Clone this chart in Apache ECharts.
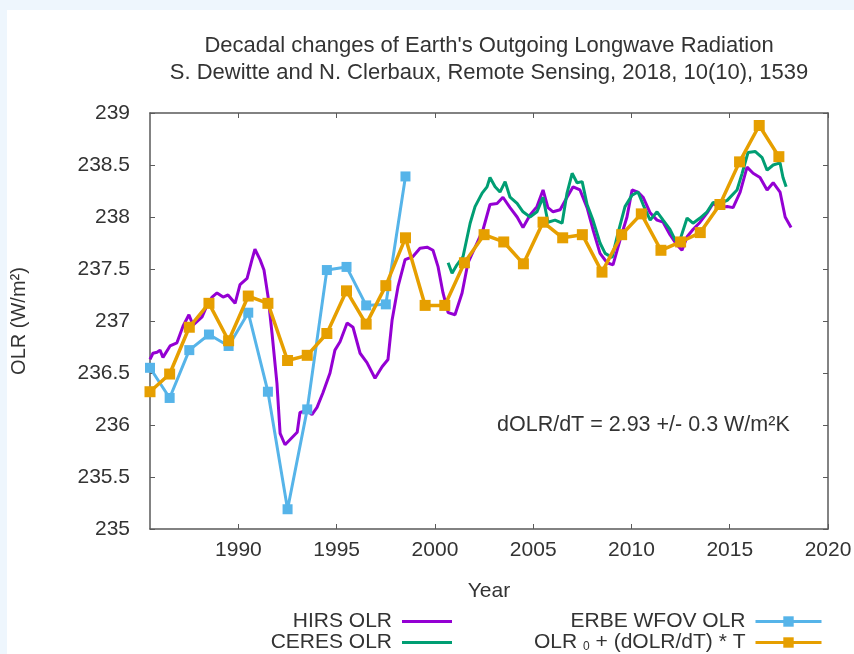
<!DOCTYPE html>
<html>
<head>
<meta charset="utf-8">
<script src="https://cdn.jsdelivr.net/npm/echarts@6/dist/echarts.min.js"></script>
<style>
  html, body { margin: 0; padding: 0; background: #eef6fd; }
  #chart { position: absolute; left: 7px; top: 10px; width: 847px; height: 644px; background: #ffffff; }
</style>
</head>
<body>
<div id="chart"></div>
<script>
// HIRS OLR, monthly smoothed series
const hirsYears = [1985.50,1985.65,1985.86,1986.01,1986.16,1986.52,1986.87,1987.18,1987.48,1987.69,1988.15,1988.40,1988.66,1988.91,1989.22,1989.47,1989.83,1990.08,1990.44,1990.69,1990.84,1991.10,1991.30,1991.51,1991.71,1991.96,1992.12,1992.37,1992.73,1992.99,1993.13,1993.49,1993.74,1994.00,1994.30,1994.66,1994.91,1995.17,1995.53,1995.83,1996.19,1996.54,1996.95,1997.31,1997.61,1997.82,1998.12,1998.48,1998.88,1999.24,1999.60,1999.90,2000.16,2000.41,2000.67,2001.02,2001.38,2001.68,2002.14,2002.45,2002.80,2003.16,2003.46,2003.82,2004.18,2004.48,2004.84,2005.19,2005.50,2005.75,2006.01,2006.37,2006.72,2007.03,2007.38,2007.74,2008.04,2008.40,2008.76,2009.06,2009.42,2009.77,2010.03,2010.33,2010.59,2010.95,2011.30,2011.61,2011.96,2012.32,2012.57,2012.83,2013.13,2013.49,2013.85,2014.15,2014.51,2014.87,2015.17,2015.53,2015.88,2016.19,2016.54,2016.90,2017.21,2017.56,2017.82,2018.12];
const hirsValues = [236.63,236.69,236.70,236.72,236.65,236.76,236.79,236.95,237.06,236.96,237.04,237.15,237.23,237.27,237.23,237.25,237.17,237.35,237.41,237.59,237.69,237.59,237.49,237.23,236.88,236.40,235.92,235.81,235.88,235.93,236.12,236.14,236.10,236.17,236.31,236.50,236.72,236.80,236.98,236.94,236.69,236.60,236.45,236.56,236.63,237.01,237.33,237.59,237.62,237.70,237.71,237.68,237.52,237.27,237.08,237.06,237.27,237.56,237.75,237.88,238.12,238.13,238.19,238.09,238.00,237.90,238.02,238.10,238.26,238.09,238.05,238.07,238.19,238.29,238.26,238.09,237.88,237.65,237.56,237.54,237.78,238.00,238.26,238.24,238.19,238.04,237.97,237.95,237.83,237.73,237.68,237.81,237.88,237.95,238.04,238.13,238.09,238.10,238.09,238.24,238.48,238.42,238.38,238.26,238.33,238.24,238.00,237.90];

// CERES OLR
const ceresYears = [2000.67,2000.87,2001.12,2001.43,2001.79,2002.04,2002.40,2002.65,2002.80,2003.06,2003.31,2003.57,2003.82,2004.18,2004.48,2004.84,2005.19,2005.50,2005.75,2006.11,2006.47,2006.72,2006.98,2007.23,2007.49,2007.74,2008.04,2008.40,2008.66,2009.01,2009.32,2009.67,2010.03,2010.33,2010.59,2010.95,2011.30,2011.61,2011.96,2012.22,2012.47,2012.83,2013.13,2013.49,2013.85,2014.15,2014.51,2014.87,2015.37,2015.63,2015.93,2016.29,2016.65,2016.90,2017.21,2017.56,2017.71,2017.87];
const ceresValues = [237.56,237.46,237.54,237.62,237.94,238.10,238.23,238.29,238.38,238.29,238.24,238.34,238.19,238.13,238.05,238.00,238.05,238.19,237.95,237.97,237.94,238.23,238.42,238.33,238.34,238.12,237.97,237.75,237.65,237.61,237.85,238.10,238.21,238.24,238.12,237.97,238.05,237.97,237.88,237.78,237.78,237.99,237.94,237.99,238.05,238.14,238.13,238.16,238.26,238.42,238.62,238.63,238.57,238.45,238.50,238.52,238.38,238.29];

// ERBE WFOV OLR, annual means
const erbeYears = [1985.5,1986.5,1987.5,1988.5,1989.5,1990.5,1991.5,1992.5,1993.5,1994.5,1995.5,1996.5,1997.5,1998.5];
const erbeValues = [236.55,236.26,236.72,236.87,236.76,237.08,236.32,235.19,236.15,237.49,237.52,237.15,237.16,238.39];

// OLR_0 + (dOLR/dT) * T, annual
const fitYears = [1985.5,1986.5,1987.5,1988.5,1989.5,1990.5,1991.5,1992.5,1993.5,1994.5,1995.5,1996.5,1997.5,1998.5,1999.5,2000.5,2001.5,2002.5,2003.5,2004.5,2005.5,2006.5,2007.5,2008.5,2009.5,2010.5,2011.5,2012.5,2013.5,2014.5,2015.5,2016.5,2017.5];
const fitValues = [236.32,236.49,236.94,237.17,236.81,237.24,237.17,236.62,236.67,236.88,237.29,236.97,237.34,237.80,237.15,237.15,237.56,237.83,237.76,237.55,237.95,237.80,237.83,237.47,237.83,238.03,237.68,237.76,237.85,238.12,238.53,238.88,238.58];

const yearTicks = [1990, 1995, 2000, 2005, 2010, 2015, 2020];

const titleLines = ["Decadal changes of Earth's Outgoing Longwave Radiation",
                    "S. Dewitte and N. Clerbaux, Remote Sensing, 2018, 10(10), 1539"];
const slopeText = 'dOLR/dT = 2.93 +/- 0.3 W/m\u00b2K';
const names = ['HIRS OLR', 'CERES OLR', 'ERBE WFOV OLR', 'OLR0 + (dOLR/dT) * T'];

const pairs = (xs, ys) => xs.map((x, i) => [x, ys[i]]);

const FONT = '"Liberation Sans", Arial, sans-serif';
const TXT = '#333';
const AX = '#5a5a5a';

const chart = echarts.init(document.getElementById('chart'), null, { renderer: 'canvas' });

const baseX = {
  type: 'value', min: 1985.5, max: 2020,
  axisLine: { lineStyle: { color: AX, width: 1.5 } },
  axisTick: { inside: true, length: 5, customValues: yearTicks, lineStyle: { color: AX } },
  splitLine: { show: false }
};
const baseY = {
  type: 'value', min: 235, max: 239, interval: 0.5,
  axisLine: { show: true, lineStyle: { color: AX, width: 1.5 } },
  axisTick: { show: true, inside: true, length: 5, lineStyle: { color: AX } },
  splitLine: { show: false }
};

const legendText = {
  fontFamily: FONT, fontSize: 21, lineHeight: 20, color: TXT, padding: [0, 5, 0, 0],
  rich: {
    a: { fontFamily: FONT, fontSize: 21, lineHeight: 20, color: TXT },
    s: { fontFamily: FONT, fontSize: 12, lineHeight: 20, color: TXT, padding: [9, 0, 0, 0] }
  }
};

chart.setOption({
  animation: false,
  textStyle: { fontFamily: FONT },
  grid: { left: 143, top: 103, width: 678, height: 416, containLabel: false, outerBoundsMode: 'none' },
  xAxis: [
    Object.assign({}, baseX, {
      position: 'bottom',
      name: 'Year', nameLocation: 'middle', nameGap: 52,
      nameTextStyle: { fontSize: 21, color: TXT, fontFamily: FONT },
      axisLabel: { customValues: yearTicks, fontSize: 21, color: TXT, margin: 11, fontFamily: FONT,
                   formatter: v => String(v) }
    }),
    Object.assign({}, baseX, { position: 'top', axisLabel: { show: false } })
  ],
  yAxis: [
    Object.assign({}, baseY, {
      position: 'left',
      name: 'OLR (W/m\u00b2)', nameLocation: 'middle', nameGap: 121, nameRotate: 90,
      nameTextStyle: { fontSize: 20, color: TXT, fontFamily: FONT },
      axisLabel: { fontSize: 21, color: TXT, margin: 20, fontFamily: FONT }
    }),
    Object.assign({}, baseY, { position: 'right', axisLabel: { show: false } })
  ],
  legend: [
    {
      data: [{ name: names[0], icon: 'rect' }, { name: names[1], icon: 'rect' }],
      orient: 'vertical', align: 'right', padding: 0,
      right: 402, bottom: 1, itemWidth: 50, itemHeight: 3, itemGap: 0,
      textStyle: legendText
    },
    {
      data: [names[2], names[3]], orient: 'vertical', align: 'right', padding: 0,
      right: 31, bottom: 1, itemWidth: 66, itemHeight: 13, itemGap: 0,
      lineStyle: { width: 3 },
      textStyle: legendText,
      formatter: n => n === names[3] ? '{a|OLR }{s|0}{a| + (dOLR/dT) * T}' : n
    }
  ],
  graphic: [
    { type: 'text', silent: true,
      style: { x: 482, y: 36, text: titleLines[0], fontSize: 22, fontFamily: FONT, fill: TXT,
               textAlign: 'center', textVerticalAlign: 'middle' } },
    { type: 'text', silent: true,
      style: { x: 482, y: 63, text: titleLines[1], fontSize: 22, fontFamily: FONT, fill: TXT,
               textAlign: 'center', textVerticalAlign: 'middle' } },
    { type: 'text', silent: true,
      style: { x: 490, y: 415, text: slopeText, fontSize: 21.5, fontFamily: FONT, fill: TXT,
               textAlign: 'left', textVerticalAlign: 'middle' } }
  ],
  series: [
    { name: names[0], type: 'line', data: pairs(hirsYears, hirsValues), showSymbol: false, symbol: 'none',
      lineStyle: { color: '#9400d3', width: 3 }, itemStyle: { color: '#9400d3' }, z: 2 },
    { name: names[1], type: 'line', data: pairs(ceresYears, ceresValues), showSymbol: false, symbol: 'none',
      lineStyle: { color: '#009e73', width: 3 }, itemStyle: { color: '#009e73' }, z: 3 },
    { name: names[2], type: 'line', data: pairs(erbeYears, erbeValues), symbol: 'rect', symbolSize: 10,
      lineStyle: { color: '#56b4e9', width: 3 }, itemStyle: { color: '#56b4e9' }, z: 4 },
    { name: names[3], type: 'line', data: pairs(fitYears, fitValues), symbol: 'rect', symbolSize: 11,
      lineStyle: { color: '#e69f00', width: 3.5 }, itemStyle: { color: '#e69f00' }, z: 5 }
  ]
});
</script>
</body>
</html>
